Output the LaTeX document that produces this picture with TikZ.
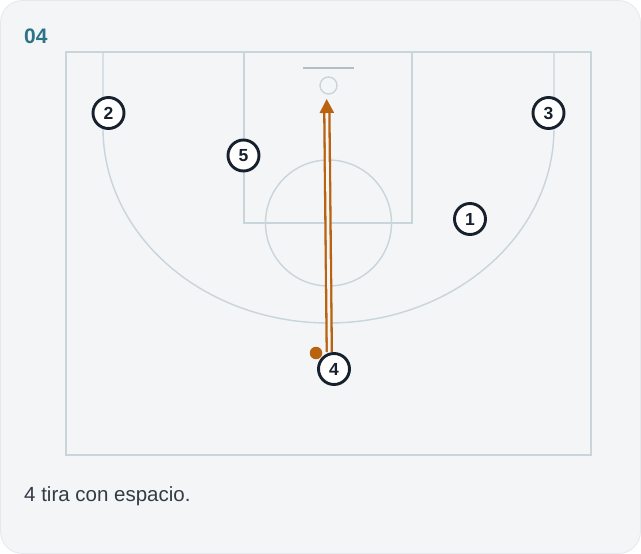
\documentclass[tikz,border=0pt]{standalone}
\usepackage{fontspec}
\setmainfont{Liberation Sans}
\usetikzlibrary{arrows.meta}
\definecolor{cardbg}{HTML}{F3F5F7}
\definecolor{cardedge}{HTML}{E6E9EC}
\definecolor{courtline}{HTML}{C9D4DB}
\definecolor{boardline}{HTML}{B5BEC5}
\definecolor{titleteal}{HTML}{2B7487}
\definecolor{captxt}{HTML}{333B45}
\definecolor{navy}{HTML}{17212E}
\definecolor{shotorange}{HTML}{B9620F}
\tikzset{
  court/.style={draw=courtline, line width=1.4pt},
  player/.style={circle, draw=navy, fill=white, line width=2.9pt, minimum size=31pt, inner sep=0pt,
    font=\fontsize{17.5}{17.5}\selectfont\bfseries, text=navy},
  shot/.style={draw=shotorange, line width=2.3pt, double=cardbg, double distance=2.8pt,
    -{Triangle[length=14pt,width=14pt]}},
  ball/.style={circle, fill=shotorange, minimum size=12.5pt, inner sep=0pt}
}
\begin{document}
\begin{tikzpicture}[x=1pt,y=-1pt]
\useasboundingbox (0,0) rectangle (641,554);
\fill[white] (0,0) rectangle (641,554);
\filldraw[fill=cardbg, draw=cardedge, line width=0.8pt, rounded corners=22pt] (0.5,0.5) rectangle (640.5,553.5);
% title
\node[anchor=base west, inner sep=0pt, font=\fontsize{21}{21}\selectfont\bfseries, text=titleteal] (title) at (24,43) {04};
% court
\draw[court] (66,52) rectangle (591,455);
\draw[court] (244,52) -- (244,223) -- (412,223) -- (412,52);
\draw[court] (328.5,223) circle[radius=63];
\draw[court] (103,52) -- (103,128) arc[start angle=180, end angle=360, x radius=225.5, y radius=-195] -- (554,52);
\draw[draw=boardline, line width=2pt] (303,68) -- (354,68);
\draw[court] (328.5,85.5) circle[radius=8.5];
% players
\node[player] (p2) at (108.5,113) {2};
\node[player] (p3) at (548.5,113) {3};
\node[player] (p5) at (243.5,155.5) {5};
\node[player] (p1) at (470,219) {1};
\node[ball] (ball) at (316,353) {};
\coordinate (shotstart) at (329.3,352);
\coordinate (shotend) at (326.7,99);
\draw[shot] (shotstart) -- (shotend);
\node[player] (p4) at (334,369) {4};
% caption
\node[anchor=base west, inner sep=0pt, font=\fontsize{20.5}{20.5}\selectfont, text=captxt] (caption) at (24,501) {4 tira con espacio.};
\end{tikzpicture}
\end{document}
